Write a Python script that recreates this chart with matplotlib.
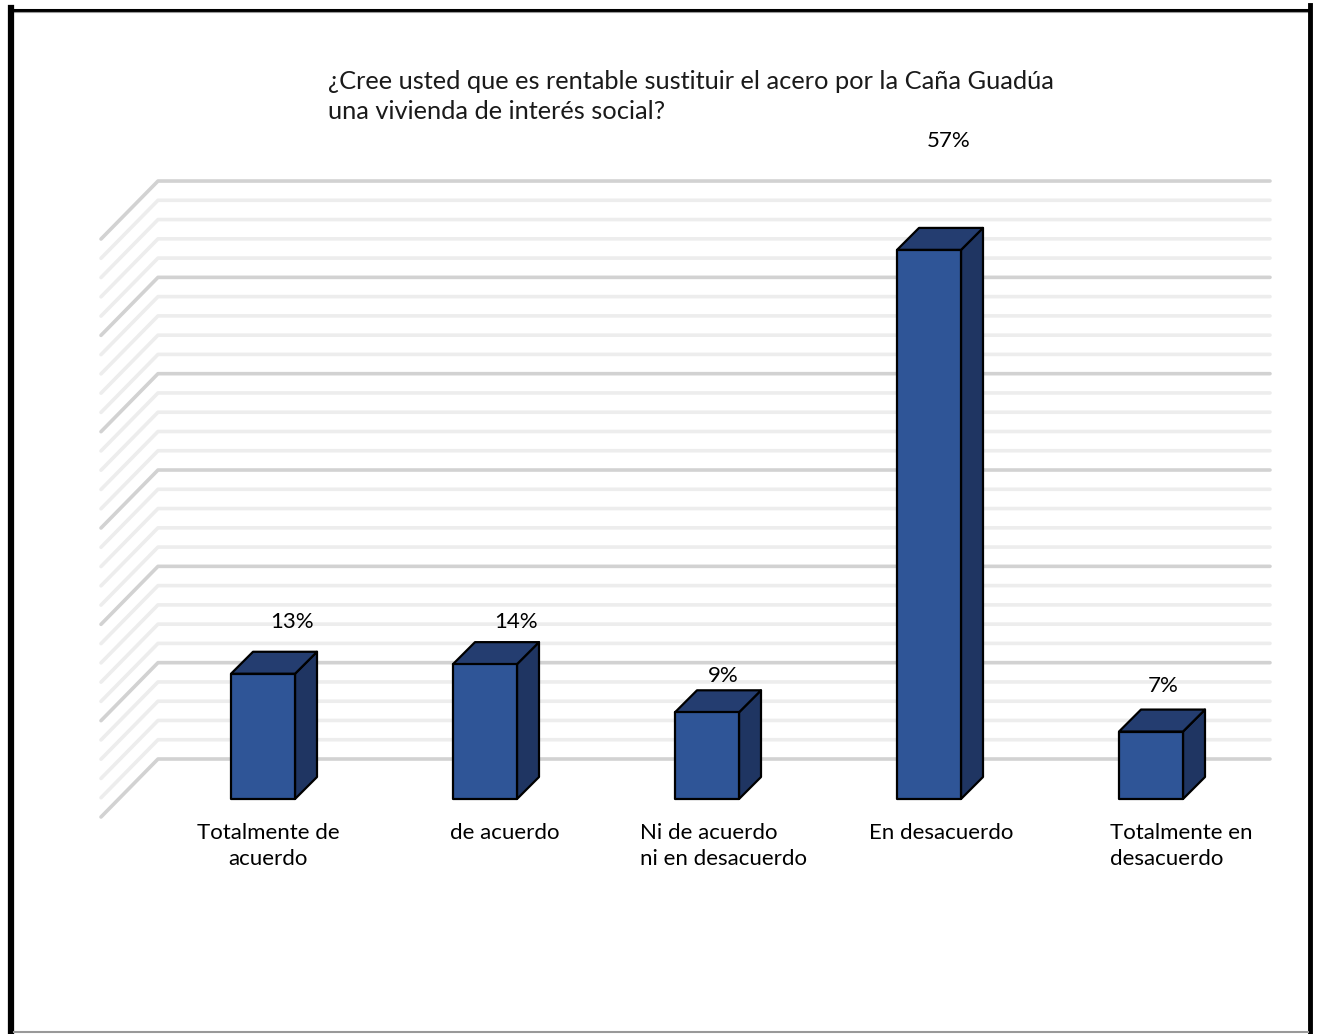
import matplotlib
matplotlib.use("Agg")
import matplotlib.pyplot as plt
from matplotlib.patches import Polygon
from matplotlib.lines import Line2D

# ---------------- data ----------------
categories = ["Totalmente de\nacuerdo", "de acuerdo", "Ni de acuerdo\nni en desacuerdo",
              "En desacuerdo", "Totalmente en\ndesacuerdo"]
values = [13, 14, 9, 57, 7]
value_labels = ["13%", "14%", "9%", "57%", "7%"]
title = "¿Cree usted que es rentable sustituir el acero por la Caña Guadúa\nuna vivienda de interés social?"
y_max = 60
y_major = 10
y_minor = 2

# ---------------- style / layout ----------------
W, H = 1320, 1034
FONT = ["Lato", "DejaVu Sans"]
plt.rcParams["font.family"] = FONT

px_x = 222.0      # pixels per category step
px_y = 9.633      # pixels per percent
x0_px = 263.0     # pixel of first bar centre
y0_px = 759.0     # pixel (from top) of 0 % on back wall

front_depth = 40.0   # px: depth of bar front face from back wall
bar_depth = 22.0     # px: depth of bar
floor_depth = 57.0   # px: depth of side wall
bar_w = 64.0 / px_x
wall_left = (158 - x0_px) / px_x
wall_right = (1270 - x0_px) / px_x

front_col = "#2F5597"
top_col = "#243D70"
side_col = "#1F3562"

# label placement offsets (px)
lab_dx = [29, 31, 16, 20, 12]
lab_dy = [1.22, 0.22, -0.38, 7.15, 0.58]  # in percent units above value
cat_dx = [5, 20, 16, 12, 42]
cat_align = ["center", "center", "left", "center", "left"]

fig = plt.figure(figsize=(W / 100, H / 100), dpi=100)
ax = fig.add_axes([0, 0, 1, 1])
ax.set_xlim(-x0_px / px_x, (W - x0_px) / px_x)
ax.set_ylim((y0_px - H) / px_y, y0_px / px_y)
ax.axis("off")

dxd = lambda p: p / px_x
dyd = lambda p: p / px_y

# gridlines: back wall + side wall
for g in range(0, y_max + 1, y_minor):
    major = g % y_major == 0
    col = "#d2d2d2" if major else "#ededed"
    lw = 2.6
    ax.plot([wall_left - dxd(floor_depth), wall_left, wall_right],
            [g - dyd(floor_depth + 1), g, g],
            color=col, lw=lw, solid_capstyle="round", solid_joinstyle="round",
            zorder=1 if not major else 2)

# bars
b = -dyd(front_depth)
ddx, ddy = dxd(bar_depth), dyd(bar_depth)
for i, v in enumerate(values):
    t = v + b
    l, r = i - bar_w / 2, i + bar_w / 2
    front = Polygon([(l, b), (r, b), (r, t), (l, t)], closed=True,
                    facecolor=front_col, edgecolor="black", lw=1.6, zorder=5,
                    joinstyle="round")
    top = Polygon([(l, t), (r, t), (r + ddx, t + ddy), (l + ddx, t + ddy)], closed=True,
                  facecolor=top_col, edgecolor="black", lw=1.6, zorder=4, joinstyle="round")
    side = Polygon([(r, b), (r + ddx, b + ddy), (r + ddx, t + ddy), (r, t)], closed=True,
                   facecolor=side_col, edgecolor="black", lw=1.6, zorder=4, joinstyle="round")
    for p in (side, top, front):
        ax.add_patch(p)
    ax.text(i + dxd(lab_dx[i]), v + lab_dy[i], value_labels[i], ha="center", va="center",
            fontsize=16, color="black", zorder=6)
    # category label
    cx = i + dxd(cat_dx[i])
    if cat_align[i] == "left":
        ax.text(cx - dxd(83), b - dyd(24), categories[i], ha="left", va="top",
                fontsize=16, linespacing=1.36, multialignment="left")
    else:
        ax.text(cx, b - dyd(24), categories[i], ha="center", va="top",
                fontsize=16, linespacing=1.36, multialignment="center")

# title
fig.text(328 / W, 1 - 70 / H, title, ha="left", va="top", fontsize=18.3,
         linespacing=1.38, color="#1a1a1a")

# frame
def fline(x1, y1, x2, y2, col, lw):
    fig.add_artist(Line2D([x1 / W, x2 / W], [1 - y1 / H, 1 - y2 / H],
                          color=col, lw=lw, transform=fig.transFigure))

fline(11, 10, 1310, 10, "black", 2.2)
fline(11, 12, 1308, 12, "#9a9a9a", 0.8)
fline(11, 8, 11, H, "black", 4.5)
fline(1310, 5, 1310, H, "black", 3.5)
fline(14, 1032, 1308, 1032, "#999999", 1.5)

fig.savefig("out.png", dpi=100)
